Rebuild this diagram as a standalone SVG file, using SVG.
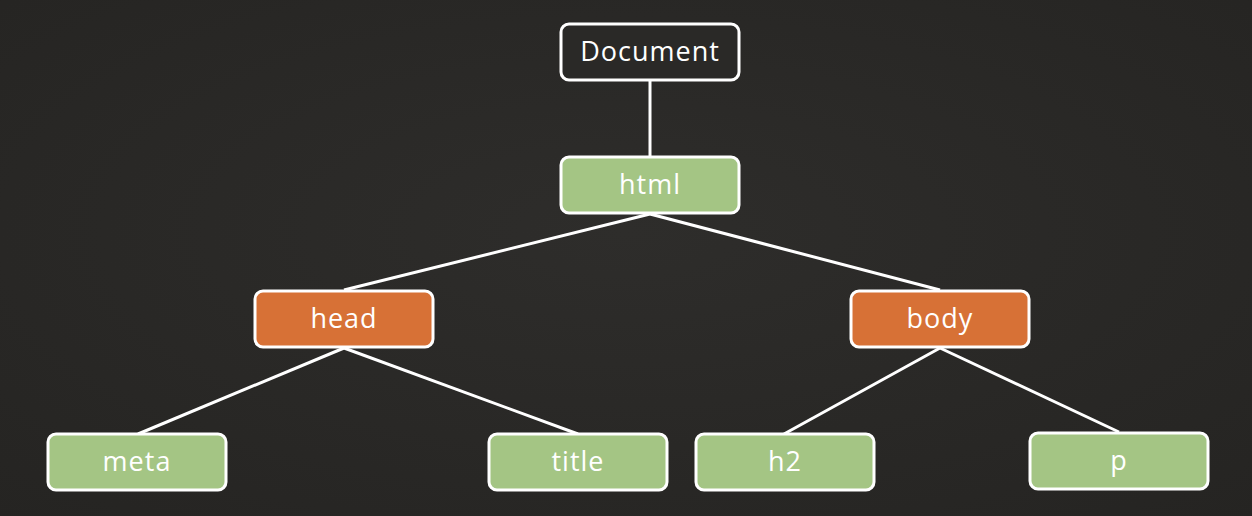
<svg xmlns="http://www.w3.org/2000/svg" width="1252" height="516" viewBox="0 0 1252 516">
<defs>
<style>
.box{stroke:#ffffff;stroke-width:3}
.dark{fill:#2a2927}
.green{fill:#a4c584}
.orange{fill:#d77136}
.lbl{fill:#ffffff;font-family:"Open Sans","DejaVu Sans",sans-serif;font-size:27px;letter-spacing:1px;text-anchor:middle;dominant-baseline:central}
.edge{stroke:#ffffff;stroke-width:3;fill:none}
</style>
<radialGradient id="bg" cx="0.5" cy="0.45" r="0.75">
<stop offset="0" stop-color="#2e2d2b"/>
<stop offset="1" stop-color="#252422"/>
</radialGradient>
</defs>
<rect width="1252" height="516" fill="url(#bg)"/>
<g id="connectors">
<line class="edge" x1="650" y1="80" x2="650" y2="157"/>
<line class="edge" x1="650" y1="214" x2="344" y2="290"/>
<line class="edge" x1="650" y1="214" x2="940" y2="290"/>
<line class="edge" x1="344" y1="348" x2="138" y2="434"/>
<line class="edge" x1="344" y1="348" x2="578" y2="434"/>
<line class="edge" x1="940" y1="348" x2="784" y2="434"/>
<line class="edge" x1="940" y1="348" x2="1119" y2="432"/>
</g>
<g id="document"><rect class="box dark" x="561" y="24" width="178" height="56" rx="8"/><text class="lbl" x="650" y="50">Document</text></g>
<g id="html"><rect class="box green" x="561" y="157" width="178" height="56" rx="8"/><text class="lbl" x="650" y="183">html</text></g>
<g id="head"><rect class="box orange" x="255" y="291" width="178" height="56" rx="8"/><text class="lbl" x="344" y="317">head</text></g>
<g id="body"><rect class="box orange" x="851" y="291" width="178" height="56" rx="8"/><text class="lbl" x="940" y="317">body</text></g>
<g id="meta"><rect class="box green" x="48" y="434" width="178" height="56" rx="8"/><text class="lbl" x="137" y="460">meta</text></g>
<g id="title"><rect class="box green" x="489" y="434" width="178" height="56" rx="8"/><text class="lbl" x="578" y="460">title</text></g>
<g id="h2"><rect class="box green" x="696" y="434" width="178" height="56" rx="8"/><text class="lbl" x="785" y="460">h2</text></g>
<g id="p"><rect class="box green" x="1030" y="433" width="178" height="56" rx="8"/><text class="lbl" x="1119" y="459">p</text></g>
</svg>
